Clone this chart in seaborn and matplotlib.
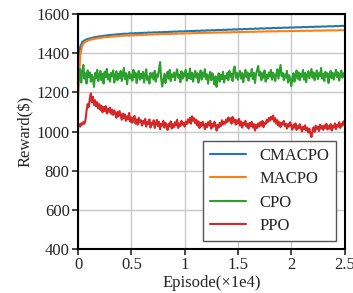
import numpy as np
import pandas as pd
import seaborn as sns
import matplotlib.pyplot as plt

# reward curves; episodes in units of 1e4, evenly spaced over 0..2.5
cmacpo = [1300, 1432, 1458, 1465, 1471, 1474, 1477, 1480, 1482, 1484,
          1486, 1487, 1489, 1490, 1492, 1493, 1494, 1495, 1496, 1497,
          1498, 1499, 1500, 1499, 1501, 1502, 1501, 1503, 1502, 1504,
          1503, 1505, 1504, 1506, 1505, 1506, 1507, 1506, 1508, 1507,
          1508, 1509, 1508, 1510, 1509, 1511, 1510, 1511, 1512, 1511,
          1512, 1513, 1512, 1514, 1513, 1514, 1515, 1514, 1516, 1515,
          1516, 1517, 1516, 1518, 1517, 1518, 1519, 1518, 1520, 1519,
          1520, 1521, 1520, 1522, 1521, 1522, 1523, 1522, 1524, 1523,
          1524, 1525, 1524, 1526, 1525, 1526, 1527, 1526, 1527, 1528,
          1527, 1528, 1529, 1528, 1530, 1529, 1530, 1531, 1530, 1531,
          1532, 1531, 1532, 1533, 1532, 1533, 1534, 1533, 1534, 1535,
          1534, 1535, 1536, 1535, 1536, 1537, 1536, 1537, 1538, 1537,
          1538, 1539, 1538, 1539, 1540, 1539]
macpo = [1150, 1385, 1440, 1455, 1461, 1466, 1469, 1472, 1474, 1476,
         1478, 1479, 1481, 1482, 1483, 1484, 1485, 1486, 1487, 1488,
         1489, 1490, 1489, 1491, 1490, 1492, 1491, 1493, 1492, 1494,
         1493, 1495, 1494, 1495, 1496, 1495, 1497, 1496, 1497, 1498,
         1497, 1498, 1499, 1498, 1499, 1500, 1499, 1500, 1501, 1500,
         1501, 1502, 1501, 1502, 1503, 1502, 1503, 1504, 1503, 1504,
         1504, 1505, 1504, 1505, 1506, 1505, 1506, 1505, 1507, 1506,
         1507, 1506, 1507, 1508, 1507, 1508, 1508, 1509, 1508, 1509,
         1509, 1510, 1509, 1510, 1510, 1511, 1510, 1511, 1511, 1512,
         1511, 1512, 1512, 1511, 1513, 1512, 1513, 1513, 1512, 1513,
         1514, 1513, 1514, 1514, 1513, 1515, 1514, 1515, 1515, 1514,
         1515, 1516, 1515, 1516, 1515, 1516, 1516, 1517, 1516, 1517,
         1517, 1516, 1517, 1518, 1517, 1518]
cpo = [1295, 1262, 1318, 1250, 1305, 1340, 1270, 1298, 1245, 1312,
       1278, 1302, 1255, 1290, 1268, 1228, 1300, 1272, 1315, 1258,
       1288, 1310, 1262, 1295, 1245, 1305, 1278, 1320, 1266, 1292,
       1255, 1300, 1282, 1312, 1250, 1285, 1308, 1262, 1296, 1274,
       1310, 1258, 1290, 1325, 1268, 1298, 1242, 1285, 1305, 1270,
       1292, 1260, 1315, 1278, 1300, 1248, 1288, 1310, 1265, 1295,
       1272, 1305, 1250, 1290, 1318, 1262, 1282, 1245, 1300, 1276,
       1298, 1265, 1310, 1255, 1292, 1280, 1320, 1355, 1270, 1230,
       1262, 1295, 1248, 1288, 1305, 1270, 1315, 1258, 1292, 1280,
       1302, 1262, 1296, 1318, 1275, 1290, 1252, 1308, 1270, 1298,
       1282, 1315, 1260, 1295, 1272, 1322, 1268, 1300, 1255, 1290,
       1310, 1275, 1298, 1250, 1288, 1312, 1265, 1302, 1280, 1318,
       1268, 1292, 1245, 1285, 1305, 1262, 1298, 1275, 1240, 1282,
       1228, 1270, 1298, 1255, 1290, 1268, 1305, 1250, 1285, 1272,
       1300, 1262, 1310, 1280, 1295, 1258, 1318, 1332, 1275, 1300,
       1265, 1292, 1310, 1270, 1298, 1252, 1288, 1315, 1278, 1302,
       1260, 1295, 1282, 1320, 1268, 1300, 1248, 1292, 1315, 1335,
       1285, 1305, 1262, 1298, 1275, 1312, 1255, 1290, 1270, 1302,
       1280, 1315, 1265, 1300, 1288, 1258, 1295, 1318, 1270, 1305,
       1340, 1282, 1300, 1262, 1292, 1275, 1310, 1250, 1288, 1270,
       1232, 1268, 1298, 1255, 1290, 1312, 1270, 1302, 1262, 1295,
       1280, 1315, 1265, 1300, 1252, 1288, 1308, 1272, 1295, 1320,
       1275, 1302, 1262, 1290, 1312, 1268, 1298, 1282, 1325, 1270,
       1295, 1258, 1305, 1280, 1298, 1248, 1288, 1310, 1272, 1300,
       1265, 1292, 1315, 1278, 1302, 1260, 1290, 1312, 1275, 1298,
       1285]
ppo = [1030, 1038, 1025, 1042, 1035, 1048, 1040, 1060, 1105, 1140,
       1125, 1165, 1195, 1150, 1178, 1135, 1160, 1128, 1150, 1118,
       1140, 1110, 1132, 1098, 1125, 1105, 1130, 1092, 1118, 1100,
       1122, 1090, 1112, 1085, 1108, 1095, 1070, 1100, 1078, 1105,
       1082, 1060, 1092, 1068, 1088, 1055, 1078, 1062, 1095, 1050,
       1072, 1045, 1068, 1080, 1040, 1062, 1035, 1070, 1048, 1058,
       1030, 1055, 1040, 1065, 1025, 1050, 1038, 1062, 1020, 1045,
       1035, 1058, 1018, 1042, 1060, 1028, 1050, 1012, 1040, 1030,
       1055, 1020, 1045, 1032, 1008, 1040, 1025, 1052, 1015, 1038,
       1022, 1048, 1030, 1060, 1018, 1042, 1028, 1055, 1035, 1045,
       1025, 1050, 1038, 1062, 1045, 1070, 1040, 1078, 1055, 1068,
       1042, 1060, 1030, 1052, 1018, 1045, 1028, 1050, 1035, 1012,
       1040, 1022, 1048, 1030, 1055, 1015, 1038, 1025, 1050, 1032,
       1005, 1035, 1020, 1045, 1028, 1058, 1035, 1050, 1040, 1062,
       1048, 1072, 1055, 1068, 1040, 1075, 1050, 1062, 1035, 1058,
       1042, 1065, 1030, 1052, 1020, 1045, 1035, 1055, 1025, 1040,
       1015, 1045, 1028, 1050, 1020, 1038, 1005, 1035, 1018, 1042,
       1025, 1048, 1030, 1055, 1022, 1045, 1038, 1060, 1048, 1070,
       1055, 1075, 1062, 1082, 1050, 1068, 1040, 1058, 1030, 1048,
       1022, 1045, 1035, 1055, 1028, 1040, 1015, 1038, 1025, 1048,
       1030, 1010, 1035, 1020, 1042, 1008, 1028, 1015, 1038, 1022,
       1000, 1025, 1012, 1032, 1005, 1020, 995, 1015, 990, 972,
       1005, 1022, 998, 1030, 1012, 1025, 1002, 1035, 1015, 1028,
       1008, 1032, 1018, 1040, 1010, 1028, 1015, 1038, 1005, 1030,
       1020, 1042, 1012, 1035, 1025, 1048, 1018, 1038, 1030, 1052,
       1035]

names = ['CMACPO', 'MACPO', 'CPO', 'PPO']
series = [cmacpo, macpo, cpo, ppo]

df = pd.concat([pd.DataFrame({'episode': np.linspace(0, 2.5, len(v)), 'reward': v, 'algo': n})
                for n, v in zip(names, series)])

sns.set_style('whitegrid', {'grid.color': '#c8c8c8', 'axes.edgecolor': 'black'})
plt.rcParams['font.family'] = ['Liberation Serif', 'DejaVu Serif']

fig = plt.figure(figsize=(3.53, 2.93), dpi=100)
ax = fig.add_axes([0.221, 0.150, 0.755, 0.802])
sns.lineplot(data=df, x='episode', y='reward', hue='algo',
             palette=sns.color_palette('tab10', 4), linewidth=1.5, ax=ax)

ax.set_xlim(0, 2.5)
ax.set_ylim(400, 1600)
ax.set_xticks([0, 0.5, 1, 1.5, 2, 2.5])
ax.set_xticklabels(['0', '0.5', '1', '1.5', '2', '2.5'])
ax.set_yticks(range(400, 1601, 200))
ax.tick_params(labelsize=12, direction='out', length=4, width=1.2,
               bottom=True, left=True, pad=2)
for s in ax.spines.values():
    s.set_linewidth(1.5)
    s.set_color('black')
ax.grid(True, linewidth=1.0)
ax.set_xlabel('Episode(×1e4)', fontsize=12, labelpad=1)
ax.set_ylabel('Reward($)', fontsize=12, labelpad=2)

leg = ax.legend(loc='lower right', fontsize=12, fancybox=False,
                edgecolor='#555555', framealpha=1, handlelength=2.2,
                borderaxespad=0.5, labelspacing=0.45)
leg.get_frame().set_linewidth(1.0)
for line in leg.get_lines():
    line.set_linewidth(1.5)

plt.savefig('out.png', dpi=100)
